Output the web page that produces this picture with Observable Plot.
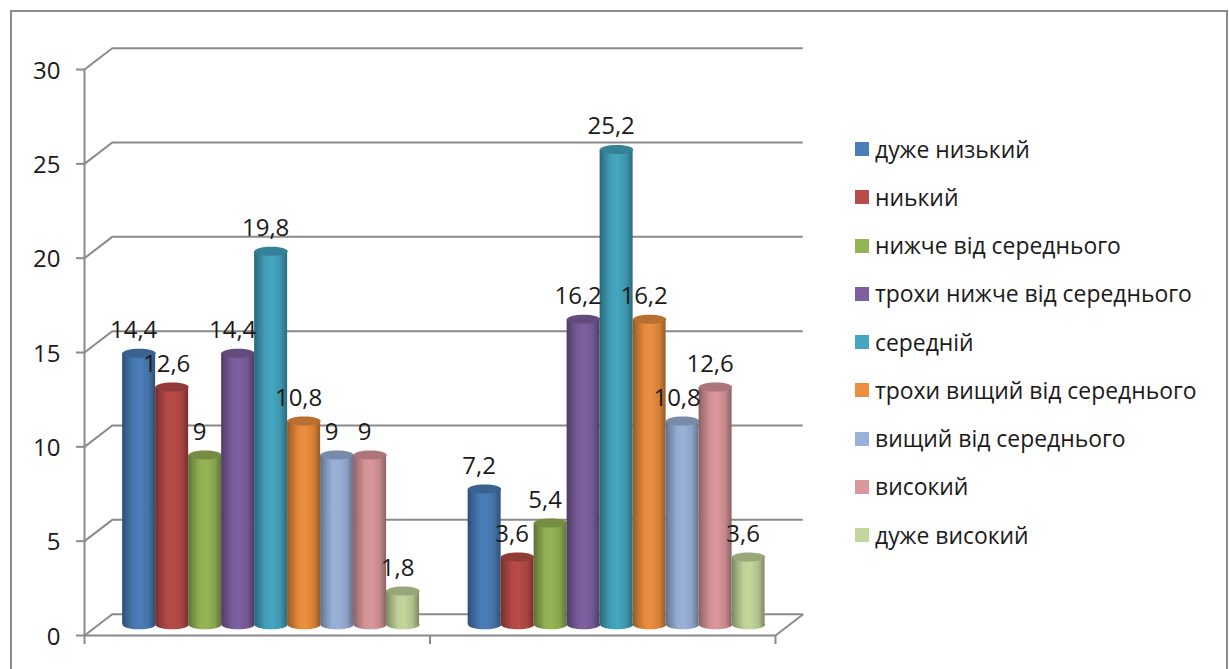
<!DOCTYPE html>
<html lang="uk">
<head>
<meta charset="utf-8">
<script src="https://cdn.jsdelivr.net/npm/d3@7"></script>
<script src="https://cdn.jsdelivr.net/npm/@observablehq/plot@0.6"></script>
<style>
  html, body { margin: 0; padding: 0; background: #fff; }
  #chart { position: relative; width: 1229px; height: 669px; overflow: hidden; font-family: "Open Sans", sans-serif; color: #1a1a1a; }
  #frame { position: absolute; left: 10px; top: 10px; width: 1214px; height: 670px; border: 2.5px solid #8a8a8a; pointer-events: none; }
  #legend { position: absolute; left: 855px; top: 125px; margin: 0; padding: 0; list-style: none; font-size: 22.9px; }
  #legend li { display: flex; align-items: center; height: 48.25px; white-space: nowrap; }
  #legend i { display: inline-block; width: 14px; height: 14px; margin-right: 6px; }
</style>
</head>
<body>
<div id="chart">
  <div id="plot"></div>
  <div id="frame"></div>
  <ul id="legend"></ul>
</div>
<script>
// Survey levels, one cylinder per level in each of the two unnamed groups
const levels = [
  "дуже низький",
  "ниький",
  "нижче від середнього",
  "трохи нижче від середнього",
  "середній",
  "трохи вищий від середнього",
  "вищий від середнього",
  "високий",
  "дуже високий"
];
const groupOne = [14.4, 12.6, 9, 14.4, 19.8, 10.8, 9, 9, 1.8];
const groupTwo = [7.2, 3.6, 5.4, 16.2, 25.2, 16.2, 10.8, 12.6, 3.6];
const colors = ["#4a7db9", "#b94b48", "#95b555", "#7d60a0", "#44a6c0", "#ec8e3e", "#9ab2da", "#db979b", "#c3d69b"];
const yTicks = [0, 5, 10, 15, 20, 25, 30];

// Depth of the fake 3D box, in data units of each axis
const depthX = 0.0803;
const depthY = 1.13;

// Horizontal layout of one group, in x-scale units (one group spans 1)
const barWidth = 0.0955;
const groupGap = (1 - barWidth * levels.length) / 2;

const rows = [groupOne, groupTwo].flatMap((values, g) =>
  values.map((value, i) => {
    const x1 = g + groupGap + i * barWidth + depthX / 2;
    return {level: i, value, x1, x2: x1 + barWidth, xc: x1 + barWidth / 2};
  })
);

const shade = (color, k) => {
  const c = d3.rgb(color);
  return d3.rgb(c.r * k, c.g * k, c.b * k).formatHex();
};

// Horizontal shading that makes a flat bar read as a cylinder
function gradients() {
  const defs = d3.create("svg:defs");
  colors.forEach((color, i) => {
    const grad = defs.append("linearGradient").attr("id", `cyl-${i}`)
      .attr("x1", 0).attr("x2", 1).attr("y1", 0).attr("y2", 0);
    [[0, 0.62], [0.12, 0.76], [0.35, 0.97], [0.55, 1.0], [0.8, 0.9], [1, 0.64]].forEach(([offset, k]) => {
      grad.append("stop").attr("offset", offset).attr("stop-color", shade(color, k));
    });
  });
  return defs.node();
}

// Flattened circle used for the cylinder caps
const capSymbol = {
  draw(ctx) {
    const rx = 16.5, ry = 4.5, kx = rx * 0.5523, ky = ry * 0.5523;
    ctx.moveTo(-rx, 0);
    ctx.bezierCurveTo(-rx, -ky, -kx, -ry, 0, -ry);
    ctx.bezierCurveTo(kx, -ry, rx, -ky, rx, 0);
    ctx.bezierCurveTo(rx, ky, kx, ry, 0, ry);
    ctx.bezierCurveTo(-kx, ry, -rx, ky, -rx, 0);
    ctx.closePath();
  }
};

const lineStyle = {stroke: "#8a8a8a", strokeWidth: 2};

const cylinders = rows.flatMap((r) => [
  Plot.dot([r], {x: "xc", y: () => depthY / 2, symbol: capSymbol, fill: `url(#cyl-${r.level})`, stroke: "none"}),
  Plot.rect([r], {x1: "x1", x2: "x2", y1: () => depthY / 2, y2: (d) => d.value + depthY / 2, fill: `url(#cyl-${r.level})`}),
  Plot.dot([r], {x: "xc", y: (d) => d.value + depthY / 2, symbol: capSymbol, fill: shade(colors[r.level], 0.78), stroke: "none"})
]);

const chart = Plot.plot({
  width: 1229,
  height: 669,
  marginLeft: 84,
  marginRight: 454,
  marginTop: 69,
  marginBottom: 34,
  style: {background: "transparent", overflow: "visible", fontFamily: "'Open Sans', sans-serif", color: "#1a1a1a"},
  x: {domain: [0, 2]},
  y: {domain: [0, 30]},
  marks: [
    gradients,
    // Back wall lines and their slanted returns to the front axis
    Plot.ruleY(yTicks, {x1: depthX, x2: 2 + depthX, y: (d) => d + depthY, ...lineStyle}),
    Plot.link(yTicks, {x1: 0, x2: depthX, y1: (d) => d, y2: (d) => d + depthY, ...lineStyle}),
    Plot.link([0], {x1: 2, x2: 2 + depthX, y1: 0, y2: depthY, ...lineStyle}),
    // Front axes: tick marks first, then their labels nudged slightly down
    Plot.ruleX([0], {y1: 0, y2: 30, ...lineStyle}),
    Plot.ruleY([0], {x1: 0, x2: 2, ...lineStyle}),
    Plot.axisY({ticks: yTicks, tickSize: 8, label: null, stroke: "#8a8a8a", strokeWidth: 2, tickFormat: () => ""}),
    Plot.axisY({ticks: yTicks, tickSize: 0, tickPadding: 24, dy: 1.5, label: null, fontSize: 24, tickFormat: (d) => String(d)}),
    Plot.axisX({ticks: [0, 1, 2], tickSize: 9, label: null, stroke: "#8a8a8a", strokeWidth: 2, tickFormat: () => ""}),
    ...cylinders,
    // Value labels sit slightly left of each cylinder's centre
    Plot.text(rows, {
      x: "xc",
      y: (d) => d.value + depthY / 2,
      text: (d) => String(d.value).replace(".", ","),
      dx: -5.5,
      dy: -23,
      fontSize: 24,
      fill: "#1a1a1a"
    })
  ]
});
document.getElementById("plot").appendChild(chart);

// Legend column beside the plot
d3.select("#legend").selectAll("li").data(levels).join("li")
  .call((li) => li.append("i").style("background", (d, i) => colors[i]))
  .call((li) => li.append("span").text((d) => d));
</script>
</body>
</html>
